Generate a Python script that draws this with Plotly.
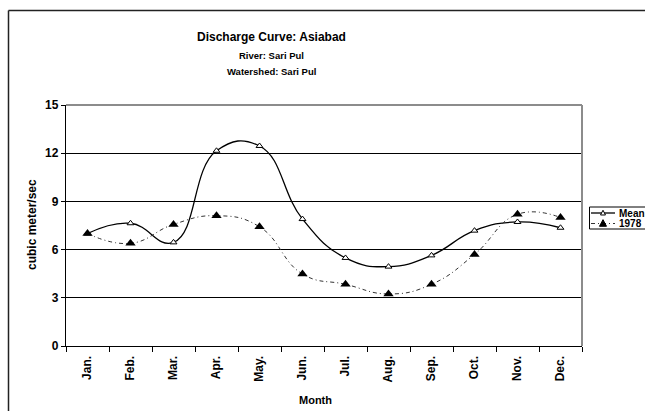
import plotly.graph_objects as go

# Monthly discharge (cubic meter/sec), Asiabad station on the Sari Pul river
months = ["Jan.", "Feb.", "Mar.", "Apr.", "May.", "Jun.", "Jul.", "Aug.",
          "Sep.", "Oct.", "Nov.", "Dec."]
mean_flow = [7.0, 7.64, 6.45, 12.15, 12.45, 7.9, 5.48, 4.94, 5.64, 7.18, 7.72, 7.36]
flow_1978 = [7.0, 6.39, 7.57, 8.11, 7.42, 4.48, 3.84, 3.24, 3.84, 5.7, 8.2, 8.0]
y_ticks = [0, 3, 6, 9, 12, 15]
series_names = ["Mean", "1978"]

W, H = 645, 411
L, R, T, B = 66, 582, 105, 346  # plot box in pixels


def px(x):
    return (x - L) / (R - L)


def py(y):
    return (B - y) / (B - T)


FONT = "Arial, Liberation Sans, sans-serif"

mean_line = dict(color="black", width=1.3, shape="spline", smoothing=1.3)
mean_marker = dict(symbol="triangle-up", size=6, color="white",
                   line=dict(color="black", width=1))
yr_line = dict(color="#333333", width=1, shape="spline", smoothing=1.3,
               dash="4px,3px,1px,3px")
yr_marker = dict(symbol="triangle-up", size=9, color="black")

fig = go.Figure()
fig.add_trace(go.Scatter(x=months, y=mean_flow, name=series_names[0],
                         mode="lines+markers", line=mean_line, marker=mean_marker))
fig.add_trace(go.Scatter(x=months, y=flow_1978, name=series_names[1],
                         mode="lines+markers", line=yr_line, marker=yr_marker))

fig.update_layout(
    width=W, height=H,
    margin=dict(l=L, r=W - R, t=T, b=H - B, pad=0),
    paper_bgcolor="white", plot_bgcolor="white",
    font=dict(family=FONT, color="black", size=11),
    showlegend=False,
    xaxis=dict(
        type="category", range=[-0.5, 11.5],
        showline=True, linecolor="black", linewidth=1.3,
        ticks="outside", ticklen=5, tickcolor="black", tickson="boundaries",
        tickangle=-90, showgrid=False, zeroline=False, ticklabelstandoff=4,
        tickfont=dict(size=12, family=FONT, weight="bold"),
    ),
    yaxis=dict(
        range=[0, 15], tickvals=y_ticks,
        showline=True, linecolor="black", linewidth=1.3,
        ticks="outside", ticklen=4, tickcolor="black",
        showgrid=True, gridcolor="black", gridwidth=1, zeroline=False,
        tickfont=dict(size=12, family=FONT, weight="bold"),
    ),
)

# plot-area frame: gray top and right edges
fig.add_shape(type="line", xref="paper", yref="paper", x0=0, x1=1, y0=1, y1=1,
              line=dict(color="#8c8c8c", width=2), layer="above")
fig.add_shape(type="line", xref="paper", yref="paper", x0=1, x1=1, y0=0, y1=1,
              line=dict(color="#8c8c8c", width=2), layer="above")
# outer chart border
fig.add_shape(type="line", xref="paper", yref="paper",
              x0=px(8.5), x1=px(700), y0=py(10.5), y1=py(10.5),
              line=dict(color="#222222", width=1.5))
fig.add_shape(type="line", xref="paper", yref="paper",
              x0=px(8.5), x1=px(8.5), y0=py(10.5), y1=py(460),
              line=dict(color="#222222", width=1.5))

# legend box, running off the right edge of the chart
fig.add_shape(type="rect", xref="paper", yref="paper",
              x0=px(589.5), x1=px(720), y0=py(207), y1=py(229),
              line=dict(color="black", width=1), fillcolor="white")
legend_rows = [(213, mean_line, mean_marker, 5), (223.5, yr_line, yr_marker, 7)]
for name, (ly, lline, lmark, tri) in zip(series_names, legend_rows):
    dash = lline.get("dash", "solid")
    fig.add_shape(type="line", xref="paper", yref="paper",
                  x0=px(591), x1=px(615), y0=py(ly), y1=py(ly),
                  line=dict(color=lline["color"], width=lline["width"], dash=dash))
    half = tri / 2
    path = "M {:.4f},{:.4f} L {:.4f},{:.4f} L {:.4f},{:.4f} Z".format(
        px(603 - half), py(ly + half * 0.8),
        px(603 + half), py(ly + half * 0.8),
        px(603), py(ly - half * 1.1))
    fig.add_shape(type="path", xref="paper", yref="paper", path=path,
                  fillcolor=lmark["color"],
                  line=dict(color="black", width=1))
    fig.add_annotation(text=name, xref="paper", yref="paper",
                       x=px(617), y=py(ly), xanchor="left", yanchor="middle",
                       showarrow=False,
                       font=dict(size=10, family=FONT, weight="bold"))

titles = [
    ("Discharge Curve: Asiabad", 37, 12),
    ("River: Sari Pul", 55, 9.5),
    ("Watershed: Sari Pul", 71, 9.5),
]
for text, ypix, size in titles:
    fig.add_annotation(text=text, xref="paper", yref="paper",
                       x=px(271), y=py(ypix), xanchor="center", yanchor="middle",
                       showarrow=False,
                       font=dict(size=size, family=FONT, weight="bold"))

fig.add_annotation(text="Month", xref="paper", yref="paper",
                   x=px(315.5), y=py(400), xanchor="center", yanchor="middle",
                   showarrow=False, font=dict(size=11, family=FONT, weight="bold"))
fig.add_annotation(text="cubic meter/sec", xref="paper", yref="paper",
                   x=px(32), y=py(225), xanchor="center", yanchor="middle",
                   textangle=-90, showarrow=False,
                   font=dict(size=12, family=FONT, weight="bold"))

fig.write_html("out.html")
